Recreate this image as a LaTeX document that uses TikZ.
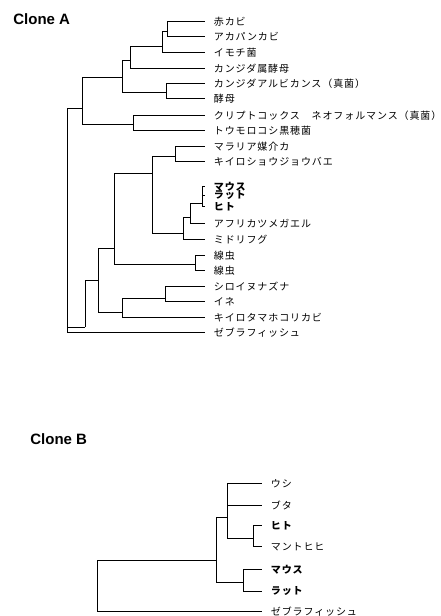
\documentclass[tikz,border=0pt]{standalone}
\usepackage{fontspec}
\setmainfont{Liberation Sans}
\newfontfamily\jp[LetterSpace=9]{Noto Sans CJK JP}
\usepackage{tikz}

\tikzset{
  leaf/.style={anchor=west, inner xsep=8.5pt, inner ysep=0pt, yshift=1.5pt,
    font=\jp\fontsize{10}{11}\selectfont},
  leafbold/.style={leaf, font=\jp\bfseries\fontsize{10}{11}\selectfont},
  clonetitle/.style={anchor=west, inner sep=0pt, font=\bfseries\fontsize{15}{16}\selectfont},
}

\begin{document}
\begin{tikzpicture}[x=1pt, y=-1pt, line width=0.75pt]
  \useasboundingbox (0,0) rectangle (440,616);

  % -- Clone A ---------------------------------------------------------------
  \node[clonetitle] (titleA) at (13,19) {Clone A};

  \node[leaf] (akakabi)  at (205,23)  {赤カビ};
  \node[leaf] (akapan)   at (205,38)  {アカパンカビ};
  \node[leaf] (imochi)   at (205,54)  {イモチ菌};
  \node[leaf] (candzoku) at (205,70)  {カンジダ属酵母};
  \node[leaf] (candalb)  at (205,85)  {カンジダアルビカンス（真菌）};
  \node[leaf] (koubo)    at (205,100) {酵母};
  \node[leaf] (crypto)   at (205,117) {クリプトコックス　ネオフォルマンス（真菌）};
  \node[leaf] (ustil)    at (205,132) {トウモロコシ黒穂菌};
  \node[leaf] (malaria)  at (205,148) {マラリア媒介カ};
  \node[leaf] (dros)     at (205,163) {キイロショウジョウバエ};
  \node[leafbold] (mouseA) at (205,188) {マウス};
  \node[leafbold] (ratA)   at (205,197) {ラット};
  \node[leafbold] (humanA) at (205,208) {ヒト};
  \node[leaf] (xeno)     at (205,225) {アフリカツメガエル};
  \node[leaf] (fugu)     at (205,241) {ミドリフグ};
  \node[leaf] (worm1)    at (205,257) {線虫};
  \node[leaf] (worm2)    at (205,272) {線虫};
  \node[leaf] (arab)     at (205,288) {シロイヌナズナ};
  \node[leaf] (rice)     at (205,303) {イネ};
  \node[leaf] (dicty)    at (205,319) {キイロタマホコリカビ};
  \node[leaf] (zebraA)   at (205,334) {ゼブラフィッシュ};

  % fungi
  \coordinate (a1) at (167,31);
  \coordinate (a2) at (162,46);
  \coordinate (a3) at (130,60);
  \coordinate (a4) at (166,92);
  \coordinate (a5) at (122,77);
  \coordinate (a7) at (133,124);
  \coordinate (a6) at (82,108);
  \draw (a1) |- (akakabi.west) (a1) |- (akapan.west);
  \draw (a2) |- (a1) (a2) |- (imochi.west);
  \draw (a3) |- (a2) (a3) |- (candzoku.west);
  \draw (a4) |- (candalb.west) (a4) |- (koubo.west);
  \draw (a5) |- (a3) (a5) |- (a4);
  \draw (a7) |- (crypto.west) (a7) |- (ustil.west);
  \draw (a6) |- (a5) (a6) |- (a7);

  % animals and plants
  \coordinate (b1) at (175,156);
  \coordinate (b3) at (202,203);
  \coordinate (b4) at (190,217);
  \coordinate (b5) at (183,233);
  \coordinate (b6) at (152,173);
  \coordinate (b7) at (195,264);
  \coordinate (b8) at (114,248);
  \coordinate (c1) at (165,298);
  \coordinate (c2) at (122,312);
  \coordinate (b9) at (98,280);
  \coordinate (d)  at (85,327);
  \coordinate (rootA) at (67,200);
  \draw (b1) |- (malaria.west) (b1) |- (dros.west);
  \draw (b3) |- (mouseA.west) (b3) |- (ratA.west) (b3) |- (humanA.west);
  \draw (b4) |- (b3) (b4) |- (xeno.west);
  \draw (b5) |- (b4) (b5) |- (fugu.west);
  \draw (b6) |- (b1) (b6) |- (b5);
  \draw (b7) |- (worm1.west) (b7) |- (worm2.west);
  \draw (b8) |- (b6) (b8) |- (b7);
  \draw (c1) |- (arab.west) (c1) |- (rice.west);
  \draw (c2) |- (c1) (c2) |- (dicty.west);
  \draw (b9) |- (b8) (b9) |- (c2);
  \draw (d) |- (b9);
  \draw (rootA) |- (a6) (rootA) |- (d) (rootA) |- (zebraA.west);

  % -- Clone B ---------------------------------------------------------------
  \node[clonetitle] (titleB) at (30,439) {Clone B};

  \node[leaf] (cow)      at (262,485) {ウシ};
  \node[leaf] (pig)      at (262,507) {ブタ};
  \node[leafbold] (humanB) at (262,527) {ヒト};
  \node[leaf] (baboon)   at (262,548) {マントヒヒ};
  \node[leafbold] (mouseB) at (262,571) {マウス};
  \node[leafbold] (ratB)   at (262,593) {ラット};
  \node[leaf] (zebraB)   at (262,613) {ゼブラフィッシュ};

  \coordinate (e1) at (253,538);
  \coordinate (e2) at (227,517);
  \coordinate (e3) at (243,582);
  \coordinate (e4) at (216,560);
  \coordinate (rootB) at (97,590);
  \draw (e1) |- (humanB.west) (e1) |- (baboon.west);
  \draw (e2) |- (cow.west) (e2) |- (pig.west) (e2) |- (e1);
  \draw (e3) |- (mouseB.west) (e3) |- (ratB.west);
  \draw (e4) |- (e2) (e4) |- (e3);
  \draw (rootB) |- (e4) (rootB) |- (zebraB.west);

\end{tikzpicture}
\end{document}
